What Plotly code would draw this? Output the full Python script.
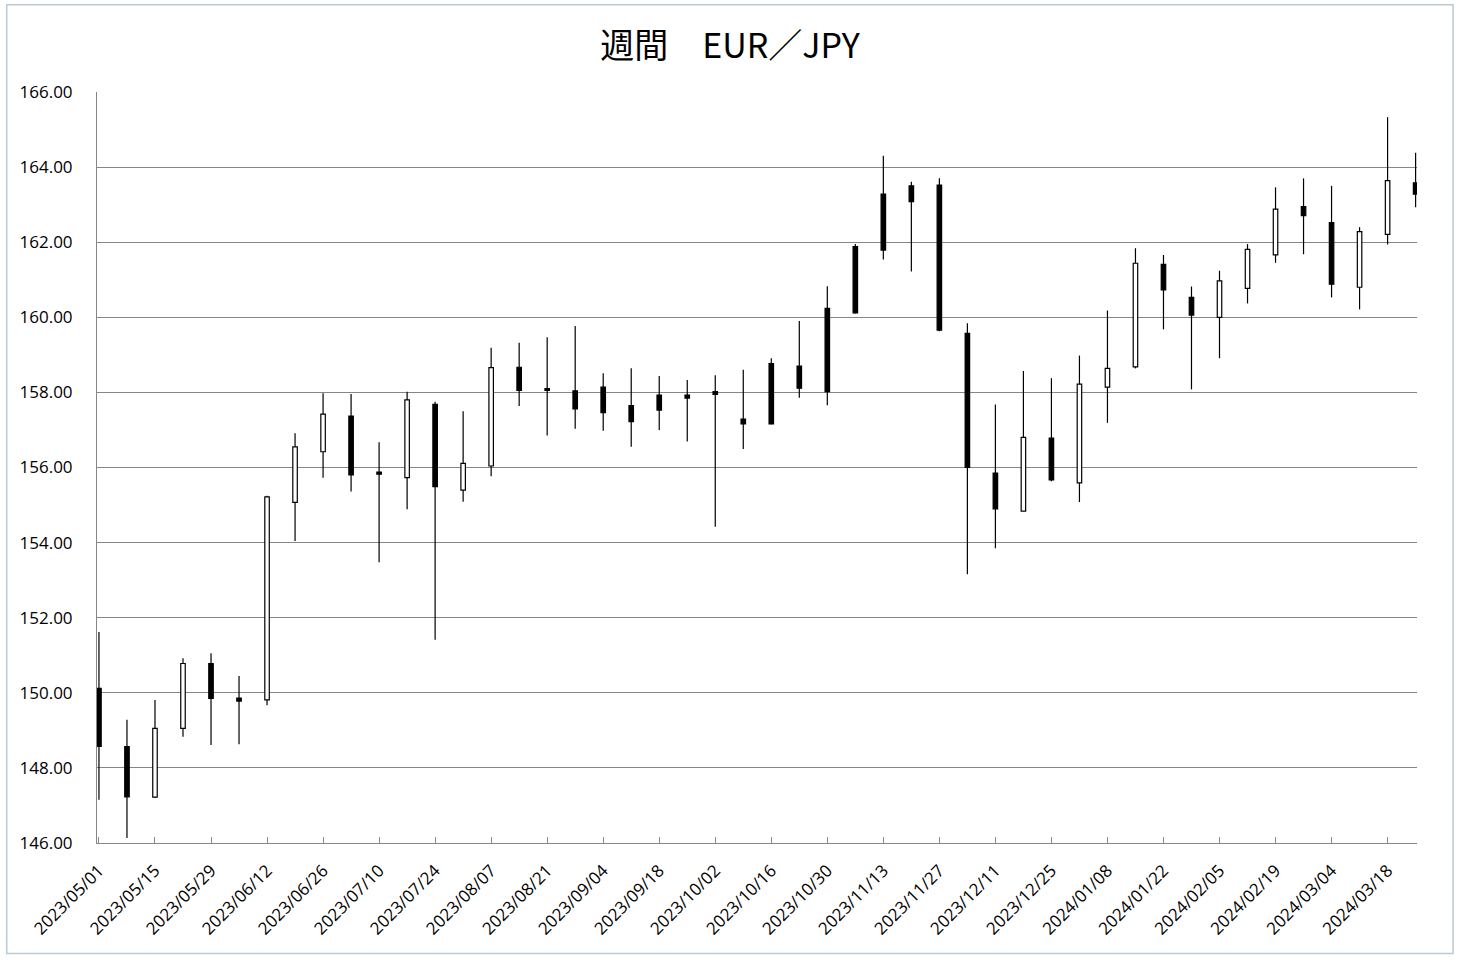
import plotly.graph_objects as go

# ---- data ----
dates = [
    "2023/05/01", "2023/05/08", "2023/05/15", "2023/05/22", "2023/05/29",
    "2023/06/05", "2023/06/12", "2023/06/19", "2023/06/26", "2023/07/03",
    "2023/07/10", "2023/07/17", "2023/07/24", "2023/07/31", "2023/08/07",
    "2023/08/14", "2023/08/21", "2023/08/28", "2023/09/04", "2023/09/11",
    "2023/09/18", "2023/09/25", "2023/10/02", "2023/10/09", "2023/10/16",
    "2023/10/23", "2023/10/30", "2023/11/06", "2023/11/13", "2023/11/20",
    "2023/11/27", "2023/12/04", "2023/12/11", "2023/12/18", "2023/12/25",
    "2024/01/01", "2024/01/08", "2024/01/15", "2024/01/22", "2024/01/29",
    "2024/02/05", "2024/02/12", "2024/02/19", "2024/02/26", "2024/03/04",
    "2024/03/11", "2024/03/18", "2024/03/25",
]
opens = [
    150.12, 148.57, 147.22, 149.05, 150.78, 149.86, 149.81, 155.07, 156.42, 157.37,
    155.88, 155.73, 157.68, 155.40, 156.04, 158.67, 158.10, 158.04, 158.14, 157.65,
    157.93, 157.93, 158.02, 157.29, 158.77, 158.70, 160.24, 161.88, 163.28, 163.50,
    163.52, 159.57, 155.85, 154.84, 156.78, 155.59, 158.14, 158.68, 161.41, 160.53,
    160.00, 160.77, 161.66, 162.95, 162.52, 160.80, 162.21, 163.58,
]
highs = [
    151.62, 149.28, 149.81, 150.92, 151.05, 150.45, 155.25, 156.91, 157.98, 157.96,
    156.67, 158.02, 157.75, 157.50, 159.19, 159.32, 159.47, 159.77, 158.51, 158.64,
    158.44, 158.33, 158.46, 158.60, 158.91, 159.90, 160.83, 161.95, 164.30, 163.61,
    163.70, 159.84, 157.68, 158.57, 158.38, 158.98, 160.18, 161.84, 161.66, 160.82,
    161.24, 161.95, 163.46, 163.70, 163.50, 162.40, 165.33, 164.38,
]
lows = [
    147.15, 146.13, 147.20, 148.83, 148.61, 148.63, 149.67, 154.04, 155.73, 155.36,
    153.48, 154.89, 151.41, 155.09, 155.77, 157.64, 156.85, 157.03, 156.98, 156.55,
    157.00, 156.69, 154.42, 156.49, 157.15, 157.86, 157.66, 160.10, 161.54, 161.22,
    159.63, 153.16, 153.85, 154.84, 155.63, 155.08, 157.19, 158.64, 159.68, 158.08,
    158.91, 160.37, 161.45, 161.68, 160.53, 160.21, 161.94, 162.93,
]
closes = [
    148.57, 147.23, 149.05, 150.78, 149.85, 149.78, 155.22, 156.55, 157.42, 155.80,
    155.82, 157.80, 155.49, 156.11, 158.66, 158.05, 158.05, 157.56, 157.46, 157.22,
    157.53, 157.85, 157.95, 157.16, 157.16, 158.11, 158.02, 160.12, 161.79, 163.08,
    159.66, 156.00, 154.90, 156.80, 155.67, 158.22, 158.64, 161.44, 160.73, 160.06,
    160.97, 161.81, 162.88, 162.71, 160.88, 162.28, 163.64, 163.28,
]
y_ticks = [146, 148, 150, 152, 154, 156, 158, 160, 162, 164, 166]
title_text = "週間　EUR／JPY"

# ---- derived geometry (from data) ----
idx = list(range(len(dates)))
body_lo = [min(o, c) for o, c in zip(opens, closes)]
body_hi = [max(o, c) for o, c in zip(opens, closes)]
body_h = [max(h - l, 0.04) for h, l in zip(body_hi, body_lo)]

wx, wy = [], []
for i in idx:
    wx += [i, i, None, i, i, None]
    wy += [lows[i], body_lo[i], None, body_hi[i], highs[i], None]

up = [i for i in idx if closes[i] >= opens[i]]
dn = [i for i in idx if closes[i] < opens[i]]

GRID = "#868686"
fig = go.Figure()

fig.add_trace(go.Scatter(
    x=wx, y=wy, mode="lines",
    line=dict(color="black", width=1.2),
    hoverinfo="skip", showlegend=False,
))
fig.add_trace(go.Bar(
    x=up, y=[body_h[i] for i in up], base=[body_lo[i] for i in up],
    width=0.16, marker=dict(color="white", line=dict(color="black", width=1.2)),
    hoverinfo="skip", showlegend=False,
))
fig.add_trace(go.Bar(
    x=dn, y=[body_h[i] for i in dn], base=[body_lo[i] for i in dn],
    width=0.16, marker=dict(color="black", line=dict(color="black", width=1.2)),
    hoverinfo="skip", showlegend=False,
))

fig.update_layout(
    width=1460, height=960,
    margin=dict(l=97, r=43, t=92, b=117),
    paper_bgcolor="white", plot_bgcolor="white",
    barmode="overlay",
    title=dict(
        text=title_text, x=0.5, xref="container", xanchor="center",
        y=1 - 46 / 960, yref="container", yanchor="middle",
        font=dict(family="Noto Sans CJK JP", size=34, color="black"),
    ),
    font=dict(family="Open Sans", size=17, color="black"),
    shapes=[dict(
        type="rect", xref="paper", yref="paper",
        x0=-0.0684, x1=1.0273, y0=-0.147, y1=1.1163,
        line=dict(color="#b9c9d6", width=1.5), fillcolor="rgba(0,0,0,0)", layer="below",
    )],
)
fig.update_xaxes(
    range=[-0.07, 47.05],
    tickmode="array", tickvals=idx[::2], ticktext=dates[::2],
    tickangle=-45, ticks="inside", ticklen=6, tickcolor=GRID,
    showline=True, linecolor=GRID, linewidth=1,
    showgrid=False, zeroline=False,
    tickfont=dict(family="Open Sans", size=17, color="black"),
    ticklabelstandoff=10,
)
fig.update_yaxes(
    range=[146, 166], tickmode="array", tickvals=y_ticks,
    tickformat=".2f",
    showgrid=True, gridcolor=GRID, gridwidth=1,
    showline=True, linecolor=GRID, linewidth=1,
    zeroline=False, ticks="",
    tickfont=dict(family="Open Sans", size=17, color="black"),
    ticklabelstandoff=20,
)

fig.write_html("out.html")
